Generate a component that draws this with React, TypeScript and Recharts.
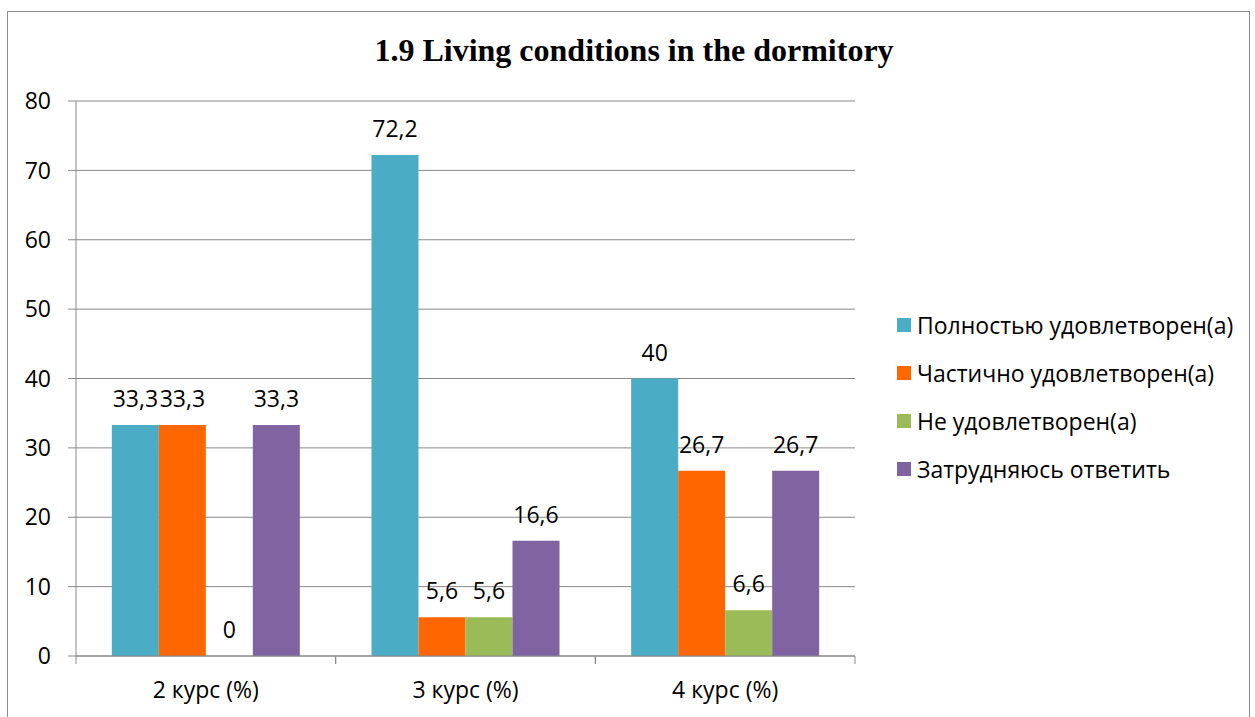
import React from "react";
import {
  BarChart,
  Bar,
  XAxis,
  YAxis,
  CartesianGrid,
  Legend,
  LabelList,
} from "recharts";

// categories and series
const courses = ["2 курс (%)", "3 курс (%)", "4 курс (%)"];
const fullySatisfied = [33.3, 72.2, 40];
const partlySatisfied = [33.3, 5.6, 26.7];
const notSatisfied = [0, 5.6, 6.6];
const hardToAnswer = [33.3, 16.6, 26.7];
const yTicks = [0, 10, 20, 30, 40, 50, 60, 70, 80];

const seriesNames = [
  "Полностью удовлетворен(а)",
  "Частично удовлетворен(а)",
  "Не удовлетворен(а)",
  "Затрудняюсь ответить",
];
const seriesColors = ["#4BACC6", "#FF6600", "#9BBB59", "#8064A2"];

const FONT = "'Open Sans', 'Liberation Sans', sans-serif";
const FONT_SIZE = 23;
const AXIS_GRAY = "#898989";

const data = courses.map((course, i) => ({
  course,
  s0: fullySatisfied[i],
  s1: partlySatisfied[i],
  s2: notSatisfied[i],
  s3: hardToAnswer[i],
}));

const formatValue = (v: any) => String(v).replace(".", ",");

// x tick: label plus tick marks on the category boundaries
const CourseTick = (props: any) => {
  const { x, y, payload } = props;
  const half = payload.offset ?? 0;
  return (
    <g>
      <line x1={x - half} x2={x - half} y1={y} y2={y + 8} stroke={AXIS_GRAY} />
      <line x1={x + half} x2={x + half} y1={y} y2={y + 8} stroke={AXIS_GRAY} />
      <text
        x={x}
        y={y + 42}
        textAnchor="middle"
        fontSize={FONT_SIZE}
        fontFamily={FONT}
        fill="#000"
      >
        {payload.value}
      </text>
    </g>
  );
};

// legend keeps the series order of the chart
const LegendList = (props: any) => {
  const items = [...(props.payload || [])].sort(
    (a: any, b: any) => seriesNames.indexOf(a.value) - seriesNames.indexOf(b.value)
  );
  return (
    <div style={{ fontFamily: FONT, fontSize: FONT_SIZE, color: "#000" }}>
      {items.map((entry: any) => (
        <div
          key={entry.value}
          style={{ display: "flex", alignItems: "center", height: 48 }}
        >
          <span
            style={{
              display: "inline-block",
              width: 14,
              height: 14,
              background: entry.color,
              marginRight: 6,
            }}
          />
          <span>{entry.value}</span>
        </div>
      ))}
    </div>
  );
};

export default function App() {
  return (
    <div
      style={{
        position: "absolute",
        left: 0,
        top: 0,
        width: 1255,
        height: 717,
        background: "#fff",
      }}
    >
      <div
        style={{
          position: "absolute",
          left: 7,
          top: 11,
          width: 1241,
          height: 712,
          border: "1px solid #8c8c8c",
        }}
      />
      <div
        style={{
          position: "absolute",
          left: 234,
          top: 30,
          width: 800,
          height: 40,
          lineHeight: "40px",
          textAlign: "center",
          fontFamily: "'Liberation Serif', 'Times New Roman', serif",
          fontWeight: "bold",
          fontSize: 32,
        }}
      >
        1.9 Living conditions in the dormitory
      </div>
      <BarChart
        width={1255}
        height={717}
        data={data}
        margin={{ top: 101, right: 400, bottom: 0, left: 0 }}
        barGap={0}
        barCategoryGap="13.8%"
        style={{ position: "absolute", left: 0, top: 0 }}
      >
        <CartesianGrid vertical={false} stroke={AXIS_GRAY} />
        <XAxis
          dataKey="course"
          height={61}
          tickLine={false}
          tickSize={0}
          tickMargin={0}
          axisLine={{ stroke: AXIS_GRAY }}
          tick={<CourseTick />}
          interval={0}
        />
        <YAxis
          width={76}
          domain={[0, 80]}
          ticks={yTicks}
          tickSize={8}
          tickMargin={17}
          axisLine={{ stroke: AXIS_GRAY }}
          tickLine={{ stroke: AXIS_GRAY }}
          tick={{ fill: "#000", fontSize: FONT_SIZE, fontFamily: FONT }}
        />
        <Legend
          layout="vertical"
          align="center"
          verticalAlign="middle"
          content={<LegendList />}
          wrapperStyle={{ left: 897, top: 301, width: 358 }}
        />
        {seriesNames.map((name, i) => (
          <Bar
            key={name}
            dataKey={`s${i}`}
            name={name}
            fill={seriesColors[i]}
            minPointSize={0.01}
            isAnimationActive={false}
          >
            <LabelList
              dataKey={`s${i}`}
              position="top"
              offset={18}
              formatter={formatValue}
              style={{ fill: "#000", fontSize: FONT_SIZE, fontFamily: FONT }}
            />
          </Bar>
        ))}
      </BarChart>
    </div>
  );
}
